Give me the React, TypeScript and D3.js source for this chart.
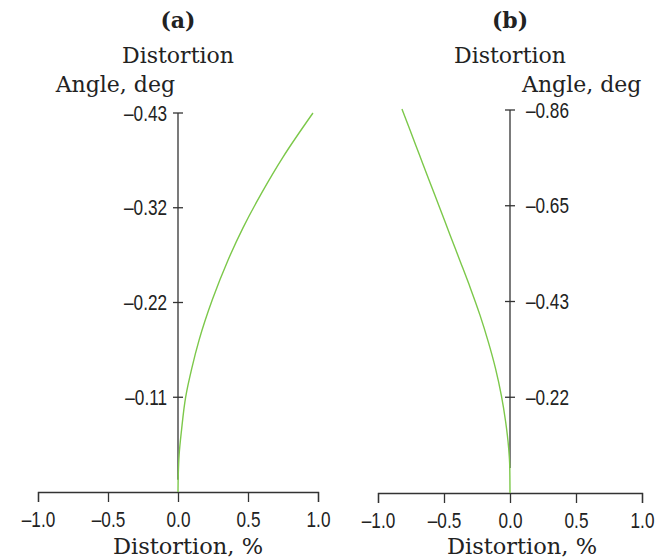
import React, { useEffect, useRef } from 'react'
import * as d3 from 'd3'

// panel (a)
const distA = [0, 0.002, 0.008, 0.025, 0.055, 0.098, 0.15, 0.245, 0.357, 0.465, 0.60, 0.75, 0.964]
const angleA = [0, -0.02, -0.042, -0.07, -0.108, -0.14, -0.172, -0.218, -0.263, -0.30, -0.34, -0.38, -0.43]
const yTicksA = [-0.1075, -0.215, -0.3225, -0.43]
const yLabelsA = ['\u20130.11', '\u20130.22', '\u20130.32', '\u20130.43']

// panel (b)
const distB = [0, -0.002, -0.01, -0.033, -0.066, -0.11, -0.165, -0.228, -0.30, -0.377, -0.455, -0.532, -0.61, -0.687, -0.764, -0.818]
const angleB = [0, -0.06, -0.10, -0.16, -0.22, -0.28, -0.34, -0.40, -0.46, -0.52, -0.58, -0.64, -0.70, -0.76, -0.82, -0.862]
const yTicksB = [-0.215, -0.43, -0.645, -0.86]
const yLabelsB = ['\u20130.22', '\u20130.43', '\u20130.65', '\u20130.86']

const xTicks = [-1, -0.5, 0, 0.5, 1]
const xLabels = ['\u20131.0', '\u20130.5', '0.0', '0.5', '1.0']

const serif = 'DejaVu Serif, serif'
const sans = 'Liberation Sans, Arial, sans-serif'
const axisColor = '#333'
const green = '#7cc84a'

// squeeze sans labels so they look like the narrow face in the original
function narrow(sel) {
  sel.each(function () {
    const w = this.getComputedTextLength()
    d3.select(this).attr('textLength', w * 0.78).attr('lengthAdjust', 'spacingAndGlyphs')
  })
}

function drawPanel(svg, opts) {
  const { x0, x1, y0, yTop, yMax, axisEnd, dist, angle, yTicks, yLabels, tag, labelSide, bottomShift } = opts

  const x = d3.scaleLinear().domain([-1, 1]).range([x0, x1])
  const y = d3.scaleLinear().domain([0, yMax]).range([y0, yTop])
  const cx = x(0)

  const g = svg.append('g')

  // x axis
  const xAxis = d3.axisBottom(x)
    .tickValues(xTicks)
    .tickSize(10)
    .tickSizeOuter(10)
    .tickFormat((d, i) => xLabels[i])

  const gx = g.append('g')
    .attr('transform', 'translate(0,' + y0 + ')')
    .call(xAxis)
  gx.selectAll('path, line').attr('stroke', axisColor).attr('stroke-width', 1.3)
  gx.selectAll('text')
    .attr('y', 19)
    .attr('dy', '0.71em')
    .style('font-family', sans)
    .style('font-size', '22px')
    .attr('fill', '#222')
    .call(narrow)

  // vertical axis
  g.append('line')
    .attr('x1', cx).attr('x2', cx)
    .attr('y1', y(yMax)).attr('y2', y(axisEnd))
    .attr('stroke', axisColor).attr('stroke-width', 1.3)

  g.selectAll('.ytick')
    .data(yTicks)
    .enter().append('line')
    .attr('x1', cx - 5).attr('x2', cx + 5)
    .attr('y1', d => y(d)).attr('y2', d => y(d))
    .attr('stroke', axisColor).attr('stroke-width', 1.3)

  g.selectAll('.ylabel')
    .data(yTicks)
    .enter().append('text')
    .attr('x', labelSide === 'left' ? cx - 11 : cx + 16)
    .attr('y', d => y(d))
    .attr('dy', '0.35em')
    .attr('text-anchor', labelSide === 'left' ? 'end' : 'start')
    .style('font-family', sans)
    .style('font-size', '22px')
    .attr('fill', '#222')
    .text((d, i) => yLabels[i])
    .call(narrow)

  // curve
  const pts = dist.map((d, i) => [d, angle[i]])
  const line = d3.line().x(d => x(d[0])).y(d => y(d[1])).curve(d3.curveMonotoneY)
  g.append('path')
    .datum(pts)
    .attr('d', line)
    .attr('fill', 'none')
    .attr('stroke', green)
    .attr('stroke-width', 1.4)

  // titles
  g.append('text')
    .attr('x', cx).attr('y', 28)
    .attr('text-anchor', 'middle')
    .style('font-family', serif).style('font-size', '22px').style('font-weight', 'bold')
    .attr('fill', '#222')
    .text(tag)

  g.append('text')
    .attr('x', cx).attr('y', 63)
    .attr('text-anchor', 'middle')
    .style('font-family', serif).style('font-size', '22px')
    .attr('fill', '#222')
    .text('Distortion')

  g.append('text')
    .attr('x', labelSide === 'left' ? cx - 3 : cx + 12)
    .attr('y', 92)
    .attr('text-anchor', labelSide === 'left' ? 'end' : 'start')
    .style('font-family', serif).style('font-size', '22px')
    .attr('fill', '#222')
    .text('Angle, deg')

  g.append('text')
    .attr('x', cx + bottomShift).attr('y', 554)
    .attr('text-anchor', 'middle')
    .style('font-family', serif).style('font-size', '22.5px')
    .attr('fill', '#222')
    .text('Distortion, %')
}

export default function App() {
  const ref = useRef(null)

  useEffect(() => {
    const svg = d3.select(ref.current)
    svg.selectAll('*').remove()

    drawPanel(svg, {
      x0: 38, x1: 318, y0: 492, yTop: 113, yMax: -0.43, axisEnd: -0.014,
      dist: distA, angle: angleA, yTicks: yTicksA, yLabels: yLabelsA, tag: '(a)', labelSide: 'left', bottomShift: 10
    })
    drawPanel(svg, {
      x0: 378, x1: 642, y0: 493, yTop: 110, yMax: -0.86, axisEnd: -0.056,
      dist: distB, angle: angleB, yTicks: yTicksB, yLabels: yLabelsB, tag: '(b)', labelSide: 'right', bottomShift: 12
    })
  }, [])

  return (
    <svg ref={ref} width={668} height={559}
      style={{ position: 'absolute', left: 0, top: 0, background: '#fff' }} />
  )
}
